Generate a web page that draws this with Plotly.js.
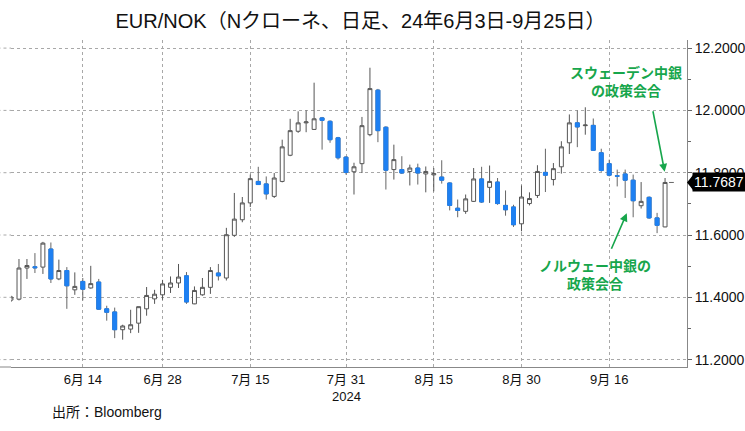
<!DOCTYPE html>
<html>
<head>
<meta charset="utf-8">
<script src="https://cdn.plot.ly/plotly-3.0.1.min.js"></script>
<style>
html,body{margin:0;padding:0;background:#fff;}
#chart{width:745px;height:431px;}
</style>
</head>
<body>
<div id="chart"></div>
<script>
// Trading days (weekdays), 2024-06-03 .. 2024-09-25
const dates = [
 '2024-06-03','2024-06-04','2024-06-05','2024-06-06','2024-06-07',
 '2024-06-10','2024-06-11','2024-06-12','2024-06-13','2024-06-14',
 '2024-06-17','2024-06-18','2024-06-19','2024-06-20','2024-06-21',
 '2024-06-24','2024-06-25','2024-06-26','2024-06-27','2024-06-28',
 '2024-07-01','2024-07-02','2024-07-03','2024-07-04','2024-07-05',
 '2024-07-08','2024-07-09','2024-07-10','2024-07-11','2024-07-12',
 '2024-07-15','2024-07-16','2024-07-17','2024-07-18','2024-07-19',
 '2024-07-22','2024-07-23','2024-07-24','2024-07-25','2024-07-26',
 '2024-07-29','2024-07-30','2024-07-31','2024-08-01','2024-08-02',
 '2024-08-05','2024-08-06','2024-08-07','2024-08-08','2024-08-09',
 '2024-08-12','2024-08-13','2024-08-14','2024-08-15','2024-08-16',
 '2024-08-19','2024-08-20','2024-08-21','2024-08-22','2024-08-23',
 '2024-08-26','2024-08-27','2024-08-28','2024-08-29','2024-08-30',
 '2024-09-02','2024-09-03','2024-09-04','2024-09-05','2024-09-06',
 '2024-09-09','2024-09-10','2024-09-11','2024-09-12','2024-09-13',
 '2024-09-16','2024-09-17','2024-09-18','2024-09-19','2024-09-20',
 '2024-09-23','2024-09-24','2024-09-25'
];
const openP = [
 11.391,11.394,11.494,11.498,11.497, 11.555,11.459,11.486,11.424,11.451,
 11.430,11.449,11.363,11.353,11.296, 11.298,11.317,11.363,11.395,11.408,
 11.432,11.446,11.469,11.379,11.408, 11.432,11.478,11.462,11.599,11.649,
 11.703,11.772,11.764,11.724,11.772, 11.856,11.933,11.960,11.939,11.976,
 11.965,11.912,11.850,11.803,11.829, 11.922,12.065,11.946,11.810,11.810,
 11.804,11.815,11.796,11.793,11.786, 11.767,11.686,11.676,11.708,11.780,
 11.753,11.770,11.695,11.690,11.636, 11.701,11.727,11.801,11.778,11.819,
 11.896,11.960,11.951,11.952,11.864, 11.829,11.790,11.796,11.776,11.694,
 11.721,11.655,11.626
];
const highP = [
 11.405,11.523,11.523,11.542,11.578, 11.576,11.521,11.497,11.480,11.462,
 11.501,11.459,11.373,11.367,11.312, 11.360,11.370,11.433,11.424,11.456,
 11.467,11.507,11.481,11.435,11.462, 11.497,11.507,11.623,11.735,11.722,
 11.794,11.819,11.788,11.799,11.906, 11.973,11.997,12.000,12.089,11.979,
 11.968,11.915,11.853,11.832,11.979, 12.137,12.069,11.949,11.890,11.853,
 11.826,11.829,11.820,11.815,11.840, 11.769,11.714,11.730,11.815,11.819,
 11.823,11.783,11.743,11.697,11.759, 11.737,11.824,11.877,11.831,11.901,
 11.987,12.000,12.010,11.974,11.877, 11.842,11.810,11.810,11.794,11.770,
 11.724,11.671,11.783
];
const lowP = [
 11.385,11.390,11.459,11.478,11.475, 11.446,11.455,11.363,11.408,11.390,
 11.428,11.360,11.325,11.269,11.264, 11.285,11.286,11.341,11.379,11.392,
 11.414,11.430,11.379,11.378,11.405, 11.411,11.454,11.454,11.594,11.641,
 11.690,11.761,11.714,11.719,11.769, 11.853,11.928,11.930,11.938,11.874,
 11.896,11.842,11.794,11.730,11.799, 11.917,11.898,11.746,11.778,11.796,
 11.759,11.762,11.737,11.740,11.765, 11.679,11.657,11.668,11.706,11.703,
 11.703,11.697,11.662,11.626,11.612, 11.695,11.719,11.738,11.759,11.797,
 11.860,11.882,11.922,11.871,11.803, 11.788,11.756,11.719,11.657,11.685,
 11.652,11.606,11.625
];
const closeP = [
 11.401,11.494,11.502,11.495,11.574, 11.459,11.486,11.437,11.435,11.426,
 11.444,11.362,11.352,11.296,11.308, 11.312,11.370,11.406,11.410,11.443,
 11.446,11.465,11.385,11.422,11.432, 11.486,11.469,11.601,11.651,11.703,
 11.781,11.762,11.732,11.783,11.883, 11.935,11.960,11.963,11.973,11.968,
 11.906,11.848,11.801,11.819,11.951, 12.070,11.935,11.808,11.842,11.799,
 11.815,11.799,11.804,11.797,11.776, 11.695,11.679,11.716,11.780,11.706,
 11.772,11.701,11.681,11.633,11.722, 11.717,11.804,11.792,11.813,11.883,
 11.960,11.947,11.953,11.872,11.807, 11.792,11.789,11.776,11.710,11.708,
 11.655,11.631,11.7687
];
const tickDates = ['2024-06-14','2024-06-28','2024-07-15','2024-07-31','2024-08-15','2024-08-30','2024-09-16'];
const tickLabels = ['6月 14','6月 28','7月 15','7月 31','8月 15','8月 30','9月 16'];
const yearLabel = '2024';
const yearDate = '2024-07-31';
const yTicks = [11.2, 11.4, 11.6, 11.8, 12.0, 12.2];
const minorXTicks = [4.2, 14.2, 25.2, 36.2, 48.2, 59.3, 70.3, 80.4];

const BLUE = '#1e80f2';
const GREEN = '#17a64c';
const FONT = 'Liberation Sans, Arial, Noto Sans CJK JP, sans-serif';
const JFONT = 'Noto Sans CJK JP, sans-serif';

// decreasing bodies overlay (blue body over grey wick)
const dn = closeP.map((c,i)=> c < openP[i]);
const bO = openP.map((o,i)=> dn[i] ? o : null);
const bC = closeP.map((c,i)=> dn[i] ? c : null);

const traces = [
 {
  type:'candlestick', x:dates, open:openP, high:highP, low:lowP, close:closeP,
  increasing:{line:{color:'#555555', width:1}, fillcolor:'#ffffff'},
  decreasing:{line:{color:'#666666', width:1}, fillcolor:BLUE},
  whiskerwidth:0, showlegend:false, hoverinfo:'skip'
 },
 {
  type:'candlestick', x:dates, open:bO, high:bO, low:bC, close:bC,
  increasing:{line:{color:BLUE, width:1}, fillcolor:BLUE},
  decreasing:{line:{color:BLUE, width:1}, fillcolor:BLUE},
  whiskerwidth:0, showlegend:false, hoverinfo:'skip'
 }
];

const last = closeP.length - 1;
const lastClose = closeP[last];
const tickIdx = tickDates.map(d => dates.indexOf(d));

const shapes = [];
// extend gridlines and x axis line to the left edge
yTicks.forEach(v=>{
  shapes.push({type:'line', xref:'paper', yref:'y', x0:-0.02, x1:0, y0:v, y1:v,
    line:{color:'#a8a8a8', width:1, dash:'dot'}, layer:'below'});
});
shapes.push({type:'line', xref:'paper', yref:'paper', x0:-0.02, x1:0, y0:0, y1:0,
  line:{color:'#888888', width:1}});
// last price dash
shapes.push({type:'line', xref:'x', yref:'y', x0:last+0.5, x1:last+1.1, y0:lastClose, y1:lastClose,
  line:{color:'#666666', width:1}});
// pointer of last price label
shapes.push({type:'path', xref:'paper', yref:'y', xsizemode:'pixel', ysizemode:'pixel',
  xanchor:1, yanchor:lastClose, path:'M0,0 L6,7.5 L6,-7.5 Z',
  fillcolor:'#000000', line:{width:0}});

const gFont = {family:JFONT, size:14, color:GREEN};
const annotations = [
 {xref:'paper', yref:'y', x:1, y:lastClose, xanchor:'left', yanchor:'middle', xshift:5,
  text:lastClose.toFixed(4), showarrow:false, bgcolor:'#000000', borderpad:1,
  font:{family:FONT, size:14, color:'#ffffff'}},
 {xref:'x', yref:'y', x:77.15, y:12.095, text:'<b>スウェーデン中銀<br>の政策会合</b>', showarrow:false,
  font:gFont, xanchor:'center', yanchor:'middle'},
 {xref:'x', yref:'y', x:73.18, y:11.474, text:'<b>ノルウェー中銀の<br>政策会合</b>', showarrow:false,
  font:gFont, xanchor:'center', yanchor:'middle'},
 {xref:'x', yref:'y', x:81.95, y:11.803, text:'', showarrow:true, ax:-12, ay:-62,
  arrowhead:2, arrowsize:1, arrowwidth:1.6, arrowcolor:GREEN},
 {xref:'x', yref:'y', x:77.2, y:11.670, text:'', showarrow:true, ax:-16, ay:37,
  arrowhead:2, arrowsize:1, arrowwidth:1.6, arrowcolor:GREEN},
 {xref:'x', yref:'paper', x:dates.indexOf(yearDate), y:-0.089, xanchor:'center', yanchor:'middle',
  text:yearLabel, showarrow:false, font:{family:FONT, size:13, color:'#111111'}},
 {xref:'paper', yref:'paper', x:0.0577, y:-0.138, xanchor:'left', yanchor:'middle',
  text:'出所：Bloomberg', showarrow:false, font:{family:FONT, size:14, color:'#111111'}}
];

const layout = {
  width:745, height:431,
  margin:{l:11, r:58, t:40, b:64},
  paper_bgcolor:'#ffffff', plot_bgcolor:'#ffffff',
  font:{family:FONT, size:13, color:'#111111'},
  title:{text:'EUR/NOK（Nクローネ、日足、24年6月3日-9月25日）', x:0.484, xanchor:'center',
         y:0.951, yanchor:'middle', font:{family:FONT, size:20, color:'#111111'}},
  showlegend:false,
  boxgap:0.3,
  xaxis:{
    type:'category', range:[0, 84.75], rangeslider:{visible:false},
    tickvals:tickDates, ticktext:tickLabels,
    showgrid:true, gridcolor:'#a8a8a8', griddash:'dot', gridwidth:1,
    showline:true, linecolor:'#888888', linewidth:1,
    ticks:'', tickfont:{family:FONT, size:13, color:'#111111'},
    zeroline:false, fixedrange:true
  },
  xaxis2:{
    overlaying:'x', anchor:'y', type:'linear', range:[0, 84.75],
    tickvals:minorXTicks.concat(tickIdx), showticklabels:false, ticks:'outside', ticklen:4,
    tickcolor:'#888888', showgrid:false, zeroline:false, showline:false
  },
  yaxis:{
    side:'right', range:[11.1763, 12.226],
    tickvals:yTicks, tickformat:'.4f',
    showgrid:true, gridcolor:'#a8a8a8', griddash:'dot', gridwidth:1,
    showline:true, linecolor:'#888888', linewidth:1,
    ticks:'outside', ticklen:4, tickcolor:'#666666',
    minor:{dtick:0.1, tick0:11.1, ticks:'outside', ticklen:3, tickcolor:'#666666', showgrid:false},
    tickfont:{family:FONT, size:14, color:'#111111'},
    zeroline:false, fixedrange:true
  },
  shapes:shapes,
  annotations:annotations
};

Plotly.newPlot('chart', traces, layout, {displayModeBar:false, staticPlot:true});
</script>
</body>
</html>
